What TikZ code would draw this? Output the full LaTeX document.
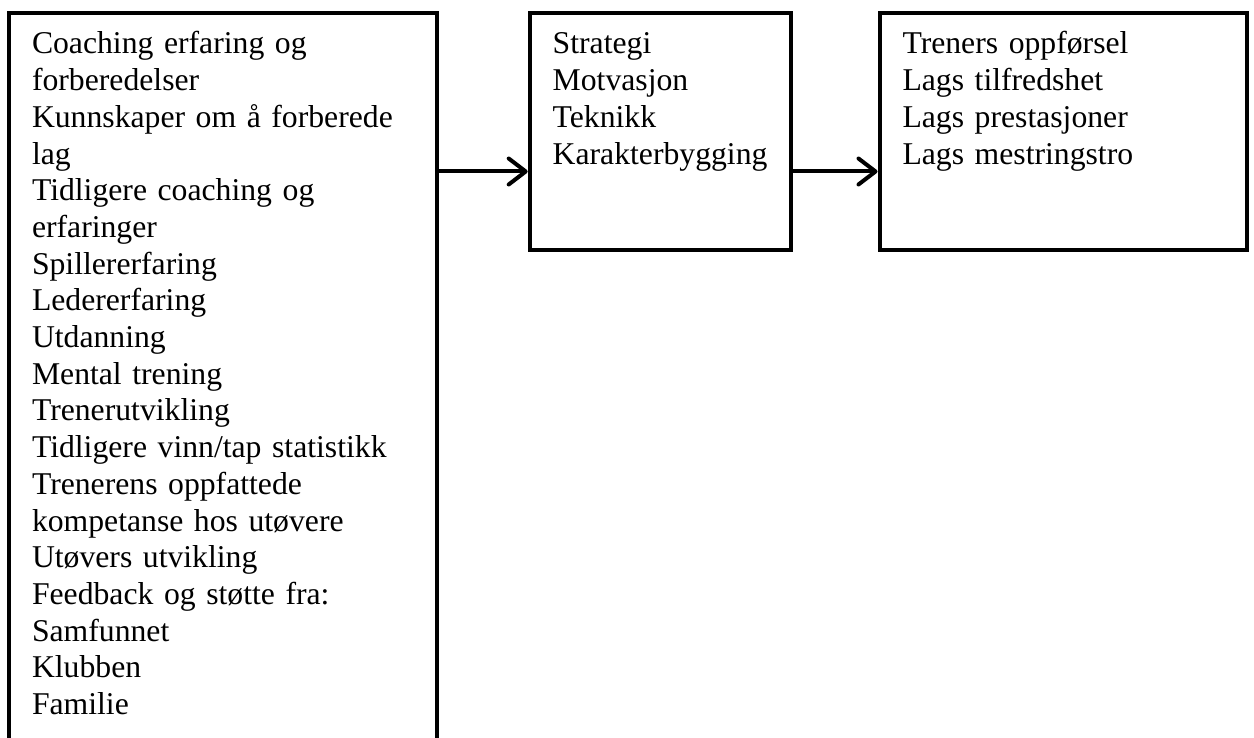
\documentclass[tikz,border=0pt]{standalone}
\usepackage{fontspec}
\setmainfont{Liberation Serif}
\usepackage{tikz}
\usetikzlibrary{arrows.meta,positioning}
\tikzset{
  factorbox/.style={
    draw,
    line width=4pt,
    anchor=north west,
    align=left,
    inner xsep=23pt,
    inner ysep=19pt,
    text height=22pt,
    font=\fontsize{31.7}{36.7}\selectfont
  },
  flow/.style={-{Straight Barb[length=17pt,width=26pt,round]}, line width=4pt}
}
\begin{document}
\begin{tikzpicture}[x=1pt, y=1pt]
  \useasboundingbox (0,0) rectangle (1254,738);
  \node[factorbox, text width=381.7pt, text depth=720pt] (antecedents) at (7,727)
    {Coaching erfaring og\\forberedelser\\Kunnskaper om å forberede\\lag\\Tidligere coaching og\\erfaringer\\Spillererfaring\\Ledererfaring\\Utdanning\\Mental trening\\Trenerutvikling\\Tidligere vinn/tap statistikk\\Trenerens oppfattede\\kompetanse hos utøvere\\Utøvers utvikling\\Feedback og støtte fra:\\Samfunnet\\Klubben\\Familie};
  \node[factorbox, text width=214.8pt, text depth=177pt, right=89pt of antecedents.north east, anchor=north west] (efficacy)
    {Strategi\\Motvasjon\\Teknikk\\Karakterbygging};
  \node[factorbox, text width=321.7pt, text depth=177pt, right=85pt of efficacy.north east, anchor=north west] (outcomes)
    {Treners oppførsel\\Lags tilfredshet\\Lags prestasjoner\\Lags mestringstro};

  \draw[flow] ([yshift=-40pt]efficacy.west -| antecedents.east) -- ([yshift=-40pt]efficacy.west);
  \draw[flow] ([yshift=-40pt]efficacy.east) -- ([yshift=-40pt]outcomes.west);
\end{tikzpicture}
\end{document}
